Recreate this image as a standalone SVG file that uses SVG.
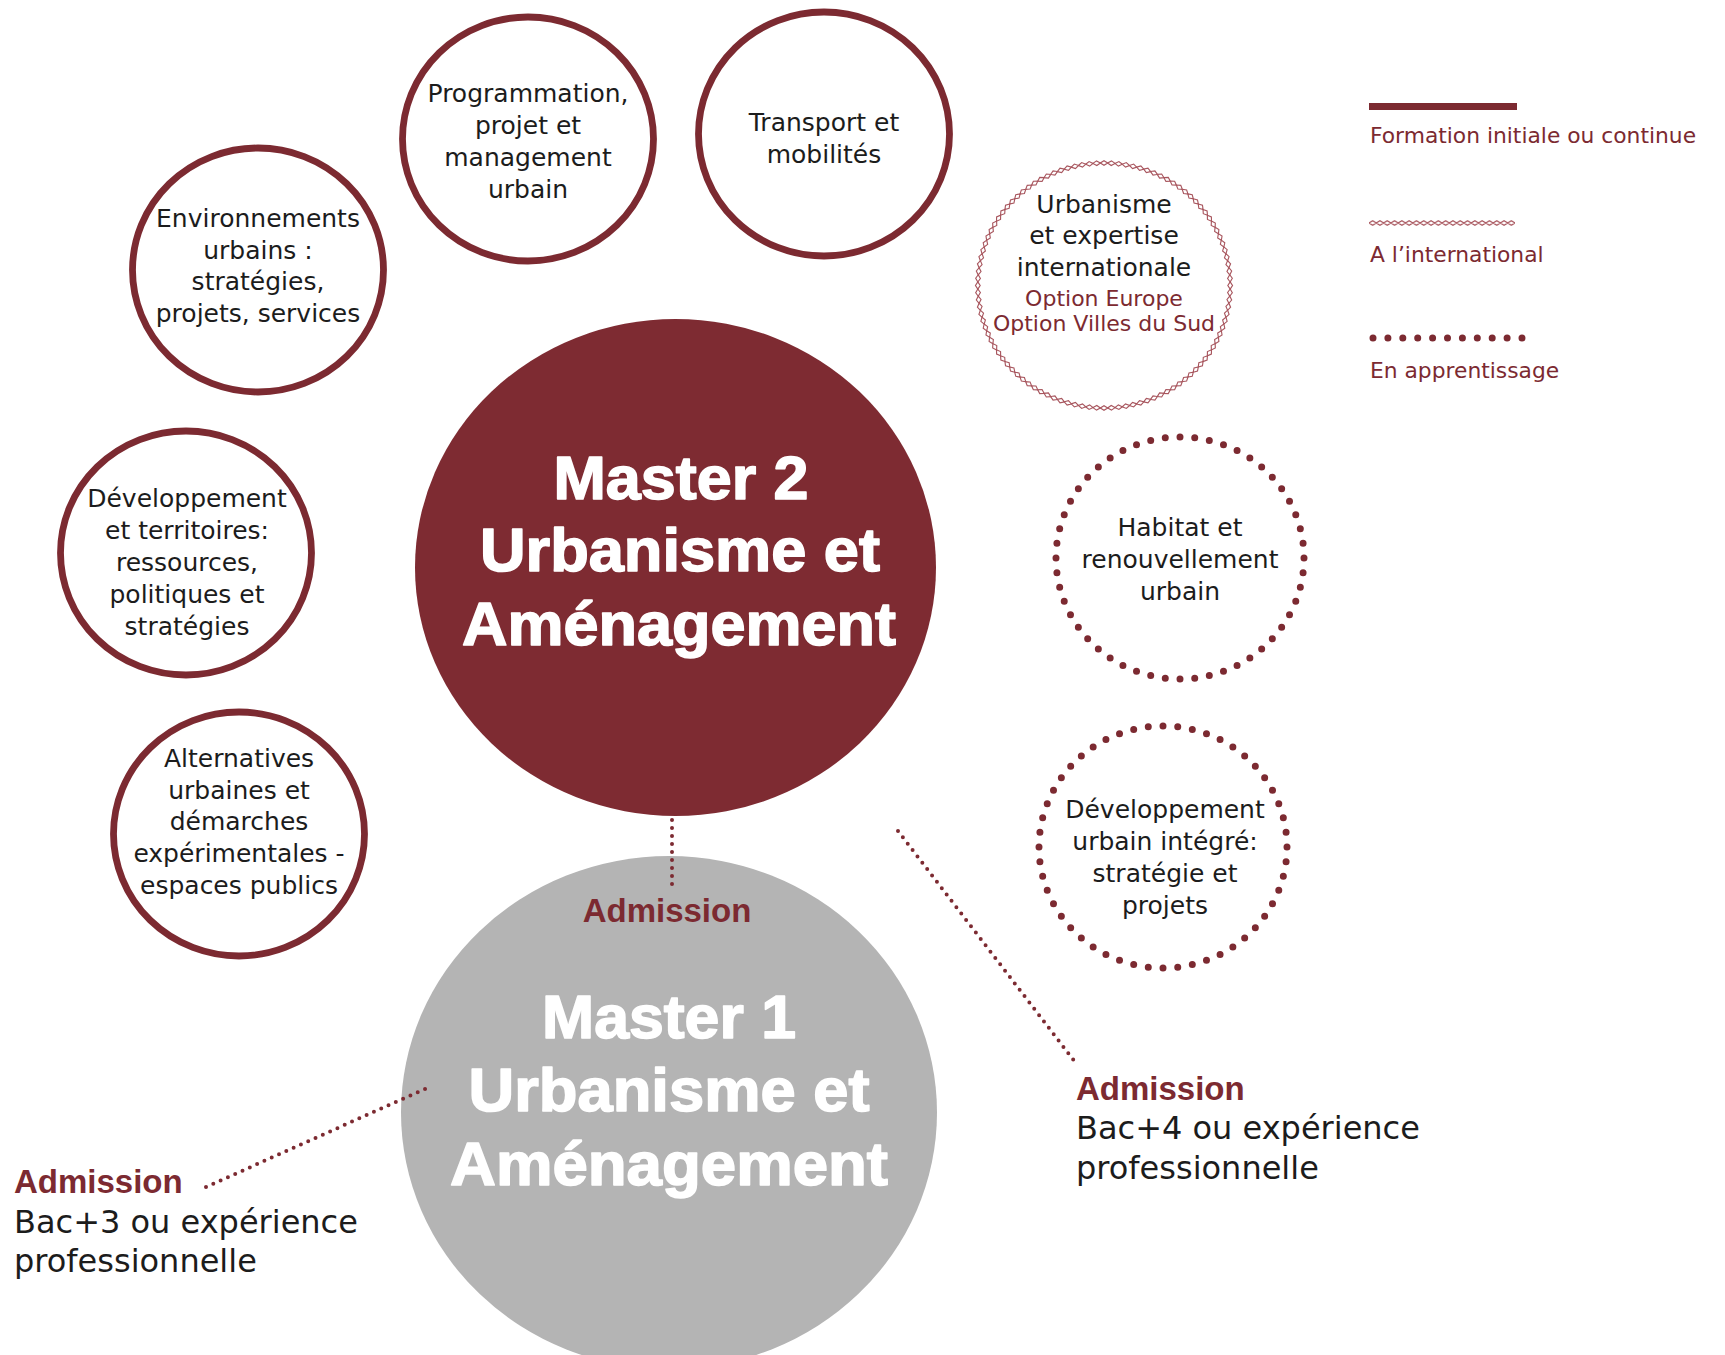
<svg xmlns="http://www.w3.org/2000/svg" width="1725" height="1355" viewBox="0 0 1725 1355">
<style>
.ring{fill:none;stroke:#7c2a31;stroke-width:6.8}
.dots{fill:none;stroke:#7c2a31;stroke-width:7;stroke-linecap:round;stroke-dasharray:0 1}
.conn{fill:none;stroke:#7c2a31;stroke-width:4;stroke-linecap:round;stroke-dasharray:0 8}
.t{font-family:"DejaVu Sans","Liberation Sans",sans-serif;font-size:25px;fill:#1c1c1c;text-anchor:middle}
.opt{font-family:"DejaVu Sans","Liberation Sans",sans-serif;font-size:22px;fill:#7c2a31;text-anchor:middle}
.title{font-family:"Liberation Sans",Arial,sans-serif;font-weight:bold;font-size:62px;fill:#ffffff;stroke:#ffffff;stroke-width:1.6;stroke-linejoin:round;text-anchor:middle}
.adm{font-family:"Liberation Sans",Arial,sans-serif;font-weight:bold;font-size:33px;fill:#7c2a31}
.body{font-family:"DejaVu Sans","Liberation Sans",sans-serif;font-size:32px;fill:#1c1c1c}
.leg{font-family:"DejaVu Sans","Liberation Sans",sans-serif;font-size:21.8px;fill:#7c2a31}
.dia{fill:none;stroke:#a8565e;stroke-width:1.1}
</style>
<defs>
<path id="d" class="dia" d="M-3.64 -122.5 L0 -124.8 L3.64 -122.5 L0 -120.2 Z"/>
<g id="dg">
<use href="#d"/>
<use href="#d" transform="rotate(3.3333)"/>
<use href="#d" transform="rotate(6.6667)"/>
<use href="#d" transform="rotate(10)"/>
<use href="#d" transform="rotate(13.3333)"/>
<use href="#d" transform="rotate(16.6667)"/>
<use href="#d" transform="rotate(20)"/>
<use href="#d" transform="rotate(23.3333)"/>
<use href="#d" transform="rotate(26.6667)"/>
</g>
<pattern id="zig" patternUnits="userSpaceOnUse" x="1369" y="220" width="7.3" height="6">
<path class="dia" d="M0 3 L3.65 0.7 L7.3 3 L3.65 5.3 Z"/>
</pattern>
</defs>
<rect width="1725" height="1355" fill="#ffffff"/>

<g id="master1">
<ellipse cx="669" cy="1112.5" rx="268" ry="256.5" fill="#b4b4b4"/>
<text class="title" x="669" y="1038" textLength="254" lengthAdjust="spacingAndGlyphs">Master 1</text>
<text class="title" x="669" y="1111" textLength="401" lengthAdjust="spacingAndGlyphs">Urbanisme et</text>
<text class="title" x="669" y="1185" textLength="438" lengthAdjust="spacingAndGlyphs">Aménagement</text>
</g>

<g id="master2">
<ellipse cx="675.5" cy="567.5" rx="260.5" ry="248.5" fill="#7e2b32"/>
<text class="title" x="681" y="499" textLength="255" lengthAdjust="spacingAndGlyphs">Master 2</text>
<text class="title" x="680" y="571" textLength="400" lengthAdjust="spacingAndGlyphs">Urbanisme et</text>
<text class="title" x="679" y="645" textLength="434" lengthAdjust="spacingAndGlyphs">Aménagement</text>
</g>

<g id="connectors">
<line class="conn" x1="672" y1="820" x2="672" y2="888"/>
<line class="conn" x1="898" y1="831" x2="1075" y2="1062"/>
<line class="conn" x1="206" y1="1187" x2="427" y2="1088"/>
</g>

<g id="admission-m2">
<text class="adm" x="667" y="922" text-anchor="middle">Admission</text>
</g>

<g id="admission-left">
<text class="adm" x="14" y="1193">Admission</text>
<text class="body" x="14" y="1233">Bac+3 ou expérience</text>
<text class="body" x="14" y="1272">professionnelle</text>
</g>

<g id="admission-right">
<text class="adm" x="1076" y="1100">Admission</text>
<text class="body" x="1076" y="1139">Bac+4 ou expérience</text>
<text class="body" x="1076" y="1179">professionnelle</text>
</g>

<g id="programmation">
<ellipse class="ring" cx="528" cy="139" rx="125.5" ry="122"/>
<text class="t" x="528" y="102">Programmation,</text>
<text class="t" x="528" y="134">projet et</text>
<text class="t" x="528" y="166">management</text>
<text class="t" x="528" y="198">urbain</text>
</g>

<g id="transport">
<ellipse class="ring" cx="824" cy="134" rx="125.5" ry="122"/>
<text class="t" x="824" y="131">Transport et</text>
<text class="t" x="824" y="163">mobilités</text>
</g>

<g id="environnements">
<ellipse class="ring" cx="258" cy="270" rx="125.5" ry="122"/>
<text class="t" x="258" y="227">Environnements</text>
<text class="t" x="258" y="259">urbains :</text>
<text class="t" x="258" y="290">stratégies,</text>
<text class="t" x="258" y="322">projets, services</text>
</g>

<g id="developpement-territoires">
<ellipse class="ring" cx="186" cy="553" rx="125.5" ry="122"/>
<text class="t" x="187" y="507">Développement</text>
<text class="t" x="187" y="539">et territoires:</text>
<text class="t" x="187" y="571">ressources,</text>
<text class="t" x="187" y="603">politiques et</text>
<text class="t" x="187" y="635">stratégies</text>
</g>

<g id="alternatives">
<ellipse class="ring" cx="239" cy="834" rx="125.5" ry="122"/>
<text class="t" x="239" y="767">Alternatives</text>
<text class="t" x="239" y="799">urbaines et</text>
<text class="t" x="239" y="830">démarches</text>
<text class="t" x="239" y="862">expérimentales -</text>
<text class="t" x="239" y="894">espaces publics</text>
</g>

<g id="urbanisme-international">
<g transform="translate(1104 285.5) scale(1.03 1)">
<use href="#dg"/>
<use href="#dg" transform="rotate(30)"/>
<use href="#dg" transform="rotate(60)"/>
<use href="#dg" transform="rotate(90)"/>
<use href="#dg" transform="rotate(120)"/>
<use href="#dg" transform="rotate(150)"/>
<use href="#dg" transform="rotate(180)"/>
<use href="#dg" transform="rotate(210)"/>
<use href="#dg" transform="rotate(240)"/>
<use href="#dg" transform="rotate(270)"/>
<use href="#dg" transform="rotate(300)"/>
<use href="#dg" transform="rotate(330)"/>
</g>
<text class="t" x="1104" y="213">Urbanisme</text>
<text class="t" x="1104" y="244">et expertise</text>
<text class="t" x="1104" y="276">internationale</text>
<text class="opt" x="1104" y="306">Option Europe</text>
<text class="opt" x="1104" y="331">Option Villes du Sud</text>
</g>

<g id="habitat">
<ellipse class="dots" cx="1180" cy="558" rx="124" ry="121" pathLength="52"/>
<text class="t" x="1180" y="536">Habitat et</text>
<text class="t" x="1180" y="568">renouvellement</text>
<text class="t" x="1180" y="600">urbain</text>
</g>

<g id="developpement-urbain">
<ellipse class="dots" cx="1163" cy="847" rx="124" ry="121" pathLength="52"/>
<text class="t" x="1165" y="818">Développement</text>
<text class="t" x="1165" y="850">urbain intégré:</text>
<text class="t" x="1165" y="882">stratégie et</text>
<text class="t" x="1165" y="914">projets</text>
</g>

<g id="legend">
<rect x="1369" y="103" width="148" height="7" fill="#7c2a31"/>
<text class="leg" x="1370" y="143">Formation initiale ou continue</text>
<rect x="1369" y="220" width="146" height="6" fill="url(#zig)"/>
<text class="leg" x="1370" y="262">A l’international</text>
<line x1="1373" y1="338" x2="1523" y2="338" stroke="#7c2a31" stroke-width="7" stroke-linecap="round" stroke-dasharray="0 14.9"/>
<text class="leg" x="1370" y="378">En apprentissage</text>
</g>
</svg>
